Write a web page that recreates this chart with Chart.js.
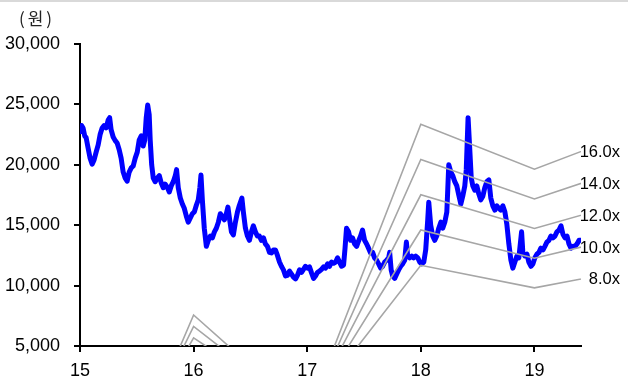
<!DOCTYPE html>
<html>
<head>
<meta charset="utf-8">
<script src="https://cdn.jsdelivr.net/npm/chart.js@4/dist/chart.umd.min.js"></script>
<style>
  html, body { margin: 0; padding: 0; background: #fff; overflow: hidden; }
  canvas { display: block; }
</style>
</head>
<body>
<canvas id="c" width="628" height="381"></canvas>
<script>
// Share price (KRW), sampled dates as fractional years (15 = 2015)
const priceDates = [
  15.001,15.014,15.027,15.041,15.054,15.071,15.089,15.107,15.124,15.142,
  15.160,15.177,15.195,15.212,15.230,15.248,15.261,15.274,15.292,15.310,
  15.327,15.345,15.362,15.380,15.398,15.415,15.433,15.451,15.468,15.486,
  15.504,15.521,15.539,15.556,15.570,15.583,15.596,15.609,15.618,15.631,
  15.645,15.662,15.680,15.698,15.715,15.733,15.750,15.768,15.786,15.803,
  15.821,15.839,15.850,15.865,15.883,15.901,15.918,15.936,15.953,15.971,
  15.989,16.006,16.024,16.041,16.055,16.065,16.077,16.094,16.112,16.130,
  16.147,16.165,16.183,16.200,16.218,16.235,16.253,16.271,16.288,16.302,
  16.315,16.333,16.350,16.368,16.386,16.403,16.425,16.438,16.456,16.474,
  16.491,16.509,16.526,16.544,16.562,16.579,16.597,16.615,16.632,16.650,
  16.668,16.685,16.703,16.720,16.738,16.756,16.773,16.791,16.809,16.826,
  16.844,16.862,16.879,16.897,16.914,16.932,16.950,16.967,16.985,17.003,
  17.020,17.038,17.056,17.073,17.091,17.108,17.126,17.144,17.161,17.179,
  17.197,17.214,17.232,17.250,17.267,17.285,17.302,17.320,17.333,17.346,
  17.364,17.382,17.399,17.417,17.435,17.452,17.470,17.487,17.505,17.523,
  17.540,17.558,17.576,17.593,17.611,17.629,17.646,17.664,17.682,17.699,
  17.717,17.726,17.739,17.752,17.770,17.787,17.805,17.823,17.840,17.858,
  17.873,17.884,17.902,17.920,17.937,17.955,17.973,17.990,18.008,18.026,
  18.043,18.061,18.070,18.087,18.105,18.123,18.140,18.158,18.176,18.193,
  18.211,18.229,18.237,18.246,18.264,18.281,18.299,18.317,18.334,18.352,
  18.369,18.387,18.400,18.416,18.431,18.444,18.458,18.475,18.493,18.510,
  18.528,18.546,18.563,18.581,18.599,18.616,18.634,18.652,18.669,18.687,
  18.704,18.722,18.740,18.757,18.775,18.793,18.810,18.828,18.846,18.863,
  18.887,18.898,18.916,18.934,18.951,18.969,18.987,19.004,19.022,19.040,
  19.057,19.075,19.092,19.110,19.128,19.145,19.163,19.181,19.198,19.216,
  19.234,19.251,19.269,19.287,19.304,19.322,19.340,19.357,19.375,19.393,19.406
];
const priceValues = [
  22750,23250,23050,22400,22250,21400,20550,20050,20400,21050,
  21650,22500,23050,23250,23050,23700,23900,22900,22300,22000,
  21800,21250,20550,19400,18900,18650,19400,19750,19900,20550,
  21050,22050,22400,21550,22050,23900,24950,24150,22050,20000,
  18900,18600,18900,19100,18500,18100,18400,18150,17750,18250,
  18600,19100,19600,18100,17250,16750,16400,15750,15250,15600,
  15950,16100,16650,17100,18100,19150,17100,14750,13250,13750,
  14100,13950,14450,14750,15250,15950,15700,15450,15950,16500,
  15600,14450,14200,15250,16100,16650,17250,16100,14750,14100,
  13750,14450,14950,14450,14100,14100,13750,13950,13450,13250,
  12750,12700,12950,12950,12500,11950,11600,11300,10800,10850,
  11200,10950,10700,10550,10850,11300,11100,11350,11600,11450,
  11550,11050,10600,10800,11100,11200,11350,11550,11450,11800,
  11600,11950,11850,11950,12300,11950,11600,11700,13100,14750,
  14450,13750,13950,13450,13250,13700,14100,14600,13750,13450,
  13100,12700,12750,12300,12100,11800,11450,11600,11950,12100,
  12300,12750,11300,10800,10600,10950,11300,11600,11800,12100,
  13600,12450,12300,12450,12300,12450,12300,11950,11800,11950,
  12950,15450,16900,15000,14100,13750,14100,14750,15250,14750,
  15250,16100,17900,20000,19400,19100,18600,18250,17500,16750,
  17400,18250,19600,23900,21250,18900,18250,17900,18250,17600,
  17100,17400,18100,18600,18750,17250,16600,16250,16600,16400,
  16250,16600,16100,15100,13450,12100,11450,11950,12450,12300,
  14450,12750,12450,12600,11950,11600,11800,12300,12600,12750,
  13100,12950,13250,13600,13750,14100,13950,14100,14450,14600,
  14950,14250,13950,14100,13450,13100,13250,13250,13450,13750,13750
];

// EPS per year used for the PER band lines
const bandYears = [15, 16, 17, 18, 19, 20];
const epsByYear = [-900, 473, -50, 1460, 1227, 1451];
const bandMultiples = [16, 14, 12, 10, 8];
const bandLabels = ['16.0x', '14.0x', '12.0x', '10.0x', '8.0x'];

// Axis ticks
const xTickYears = [15, 16, 17, 18, 19];
const xTickLabels = ['15', '16', '17', '18', '19'];
const yTickValues = [5000, 10000, 15000, 20000, 25000, 30000];
const yTickLabels = ['5,000', '10,000', '15,000', '20,000', '25,000', '30,000'];
const unitLabel = '(원)';

const FONT = '"Liberation Sans", Arial, sans-serif';

const bandDatasets = bandMultiples.map((m, k) => ({
  label: bandLabels[k],
  data: bandYears.map((yr, i) => ({ x: yr, y: epsByYear[i] * m })),
  borderColor: '#a6a6a6',
  borderWidth: 1.6,
  pointRadius: 0,
  tension: 0,
  clip: 0
}));

const priceDataset = {
  label: '주가',
  data: priceDates.map((d, i) => ({ x: d, y: priceValues[i] })),
  borderColor: '#0000ff',
  borderWidth: 5,
  borderJoinStyle: 'round',
  borderCapStyle: 'round',
  pointRadius: 0,
  tension: 0
};

// Page frame line, unit caption and band labels at the right edge
const decorations = {
  id: 'decorations',
  beforeDraw(chart) {
    const ctx = chart.ctx;
    ctx.save();
    ctx.fillStyle = '#d9d9d9';
    ctx.fillRect(0, 0, chart.width, 2);
    ctx.fillStyle = '#222';
    ctx.font = '17px "Noto Sans CJK KR", sans-serif';
    ctx.textAlign = 'center';
    ctx.textBaseline = 'middle';
    if ('letterSpacing' in ctx) ctx.letterSpacing = '3px';
    ctx.fillText(unitLabel, 37, 19);
    ctx.restore();
  },
  afterDatasetsDraw(chart) {
    const ctx = chart.ctx;
    const right = chart.chartArea.right;
    ctx.save();
    ctx.fillStyle = '#000';
    ctx.font = '16.5px ' + FONT;
    ctx.textAlign = 'right';
    ctx.textBaseline = 'middle';
    bandLabels.forEach((lbl, k) => {
      const pts = chart.getDatasetMeta(k).data;
      for (let j = 0; j < pts.length - 1; j++) {
        const a = pts[j], b = pts[j + 1];
        if (a.x <= right && b.x >= right) {
          const t = (right - a.x) / (b.x - a.x);
          const y = a.y + t * (b.y - a.y);
          ctx.fillText(lbl, 620, y + 1);
          break;
        }
      }
    });
    ctx.restore();
  }
};

new Chart(document.getElementById('c'), {
  type: 'line',
  data: { datasets: [...bandDatasets, priceDataset] },
  options: {
    responsive: false,
    animation: false,
    devicePixelRatio: 1,
    layout: { padding: { top: 44, right: 47, left: 0, bottom: 0 } },
    plugins: { legend: { display: false }, tooltip: { enabled: false } },
    scales: {
      x: {
        type: 'linear',
        min: 15,
        max: 19.41,
        afterBuildTicks: s => { s.ticks = xTickYears.map(v => ({ value: v })); },
        afterFit: s => { s.height = 35; },
        grid: { drawOnChartArea: false, drawTicks: true, tickLength: 6, color: '#000', lineWidth: 2 },
        border: { color: '#000', width: 2 },
        ticks: {
          callback: (v, i) => xTickLabels[i],
          color: '#000',
          font: { family: FONT, size: 18 },
          padding: 8,
          maxRotation: 0,
          autoSkip: false
        }
      },
      y: {
        min: 5000,
        max: 30000,
        afterBuildTicks: s => { s.ticks = yTickValues.map(v => ({ value: v })); },
        afterFit: s => { s.width = 80; },
        grid: { drawOnChartArea: false, drawTicks: true, tickLength: 6, color: '#000', lineWidth: 2 },
        border: { color: '#000', width: 2 },
        ticks: {
          callback: (v, i) => yTickLabels[i],
          color: '#000',
          font: { family: FONT, size: 18 },
          padding: 14,
          autoSkip: false
        }
      }
    }
  },
  plugins: [decorations]
});
</script>
</body>
</html>
